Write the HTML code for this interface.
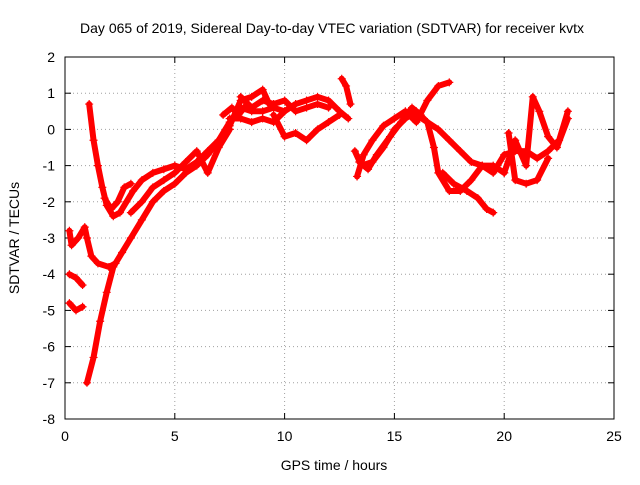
<!DOCTYPE html>
<html><head><meta charset="utf-8"><style>
body{margin:0;background:#fff;}
svg text{font-family:"Liberation Sans",sans-serif;font-size:14px;fill:#000;}
</style></head><body>
<svg id="chart" width="640" height="480" xmlns="http://www.w3.org/2000/svg">
<rect width="640" height="480" fill="#fff"/>
<text x="332" y="33" text-anchor="middle">Day 065 of 2019, Sidereal Day-to-day VTEC variation (SDTVAR) for receiver kvtx</text>
<g id="grid"></g>
<g id="axes"></g>
<g id="series"></g>
<text x="334" y="470" text-anchor="middle">GPS time / hours</text>
<text transform="translate(19,238) rotate(-90)" text-anchor="middle">SDTVAR / TECUs</text>
</svg>
<script>
const xTicks=[0,5,10,15,20,25];
const yTicks=[2,1,0,-1,-2,-3,-4,-5,-6,-7,-8];
const trackA=[[1.0,-7.0],[1.3,-6.3],[1.6,-5.3],[1.9,-4.5],[2.2,-3.8],[2.6,-3.4],[3.0,-3.0],[3.5,-2.5],[4.0,-2.0],[4.5,-1.7],[5.0,-1.5],[5.5,-1.2],[6.0,-1.0],[6.5,-0.7],[7.0,-0.3],[7.5,0.2],[8.0,0.6],[8.5,0.5],[9.0,0.5],[9.5,0.6],[10.0,0.5]];
const trackB=[[1.1,0.7],[1.3,-0.3],[1.5,-1.0],[1.7,-1.6],[1.9,-2.1],[2.2,-2.4],[2.5,-2.3],[2.8,-2.0],[3.1,-1.7],[3.5,-1.4],[4.0,-1.2],[4.5,-1.1],[5.0,-1.0],[5.5,-1.1],[6.0,-0.9],[6.5,-0.6],[7.0,-0.3],[7.5,0.1],[8.0,0.8],[8.5,0.9],[9.0,1.1],[9.3,0.7]];
const trackC=[[0.2,-2.8],[0.3,-3.2],[0.6,-3.0],[0.9,-2.7],[1.0,-3.0],[1.2,-3.5],[1.5,-3.7],[2.0,-3.8],[2.3,-3.7]];
const trackD1=[[0.2,-4.0],[0.5,-4.1],[0.8,-4.3]];
const trackD2=[[0.2,-4.8],[0.5,-5.0],[0.8,-4.9]];
const trackE=[[1.8,-1.9],[2.1,-2.2],[2.4,-2.0],[2.7,-1.6],[3.0,-1.5]];
const trackF=[[3.0,-2.3],[3.5,-2.0],[4.0,-1.6],[4.5,-1.4],[5.0,-1.2],[5.5,-0.9],[6.0,-0.6],[6.5,-1.2],[7.0,-0.5],[7.5,0.0]];
const trackG=[[7.5,0.3],[8.0,0.3],[8.5,0.2],[9.0,0.3],[9.5,0.2],[10.0,0.5],[10.5,0.7],[11.0,0.8],[11.5,0.9],[12.0,0.8],[12.5,0.5],[12.9,0.3]];
const trackH=[[9.5,0.4],[10.0,-0.2],[10.5,-0.1],[11.0,-0.3],[11.5,0.0],[12.0,0.2],[12.5,0.4]];
const trackH2=[[12.6,1.4],[12.8,1.2],[13.0,0.7]];
const trackI=[[13.2,-0.6],[13.5,-1.0],[14.0,-0.9],[14.5,-0.5],[15.0,0.0],[15.5,0.3],[16.0,0.5],[16.5,0.2],[16.8,-0.5],[17.0,-1.2],[17.5,-1.7],[18.0,-1.7],[18.5,-1.4],[19.0,-1.0],[19.5,-1.0],[20.0,-1.2]];
const trackJ=[[13.3,-1.3],[13.6,-0.7],[14.0,-0.3],[14.5,0.1],[15.0,0.3],[15.5,0.5],[16.0,0.2],[16.5,0.8],[17.0,1.2],[17.5,1.3]];
const trackK=[[16.0,0.4],[16.5,0.2],[17.0,0.0],[17.5,-0.3],[18.0,-0.6],[18.5,-0.9],[19.0,-1.0],[19.5,-1.2],[20.0,-0.7],[20.5,-0.6],[21.0,-0.6],[21.5,-0.8],[22.0,-0.6],[22.5,-0.3],[22.9,0.5]];
const trackL=[[17.2,-1.2],[17.7,-1.5],[18.3,-1.7],[18.8,-1.9],[19.2,-2.2],[19.5,-2.3]];
const trackM=[[20.0,-1.2],[20.5,-0.3],[21.0,-1.0],[21.3,0.9],[21.6,0.5],[22.0,-0.2],[22.4,-0.5],[22.9,0.3]];
const trackN=[[20.2,-0.1],[20.5,-1.4],[21.0,-1.5],[21.5,-1.4],[22.0,-0.8]];
const trackO=[[8.0,0.9],[8.5,0.6],[9.0,0.8],[9.5,0.7],[10.0,0.8],[10.5,0.5],[11.0,0.6],[11.5,0.7],[12.0,0.6]];
const trackP=[[13.4,-0.9],[13.8,-1.1],[14.2,-0.7],[14.8,-0.2],[15.3,0.2],[15.8,0.6],[16.2,0.4]];
const trackQ=[[7.2,0.4],[7.6,0.6],[7.9,0.4],[8.3,0.7]];
const tracks=[trackA,trackB,trackC,trackD1,trackD2,trackE,trackF,trackG,trackH,trackH2,trackI,trackJ,trackK,trackL,trackM,trackN,trackO,trackP,trackQ];

const L=65,R=614,T=57,B=419;
const xs=v=>L+(v-0)/25*(R-L);
const ys=v=>B-(v+8)/10*(B-T);
const NS="http://www.w3.org/2000/svg";
function mk(tag,attrs,parent){const e=document.createElementNS(NS,tag);for(const k in attrs)e.setAttribute(k,attrs[k]);parent.appendChild(e);return e;}
const grid=document.getElementById('grid'),axes=document.getElementById('axes'),series=document.getElementById('series');
xTicks.forEach(t=>{
  const x=xs(t);
  if(t>0&&t<25){const g=mk('line',{x1:x,x2:x,y1:T,y2:B,stroke:'#a0a0a0','stroke-dasharray':'1,3'},grid);
  
  }
  mk('line',{x1:x,x2:x,y1:B,y2:B-6,stroke:'#000'},axes);
  mk('line',{x1:x,x2:x,y1:T,y2:T+6,stroke:'#000'},axes);
  const tx=mk('text',{x:x,y:B+22,'text-anchor':'middle'},axes);tx.textContent=t;
  
  
});
yTicks.forEach(t=>{
  const y=ys(t);
  if(t<2&&t>-8){const g=mk('line',{x1:L,x2:R,y1:y,y2:y,stroke:'#a0a0a0','stroke-dasharray':'1,3'},grid);
  
  }
  mk('line',{x1:L,x2:L+6,y1:y,y2:y,stroke:'#000'},axes);
  mk('line',{x1:R,x2:R-6,y1:y,y2:y,stroke:'#000'},axes);
  const tx=mk('text',{x:L-10,y:y+5,'text-anchor':'end'},axes);tx.textContent=t;
  
  
});
mk('rect',{x:L,y:T,width:R-L,height:B-T,fill:'none',stroke:'#000'},axes);
tracks.forEach(tr=>{
  const pl=mk('polyline',{points:tr.map(p=>xs(p[0])+','+ys(p[1])).join(' '),fill:'none',stroke:'#f00','stroke-width':6,'stroke-linejoin':'round','stroke-linecap':'round'},series);
  
  
  tr.forEach(p=>{
    const x=xs(p[0]),y=ys(p[1]);
    const m=mk('path',{d:`M${x-4},${y}H${x+4}M${x},${y-4}V${y+4}`,stroke:'#f00','stroke-width':1.2},series);
    
    
  });
});
</script>
</body></html>
